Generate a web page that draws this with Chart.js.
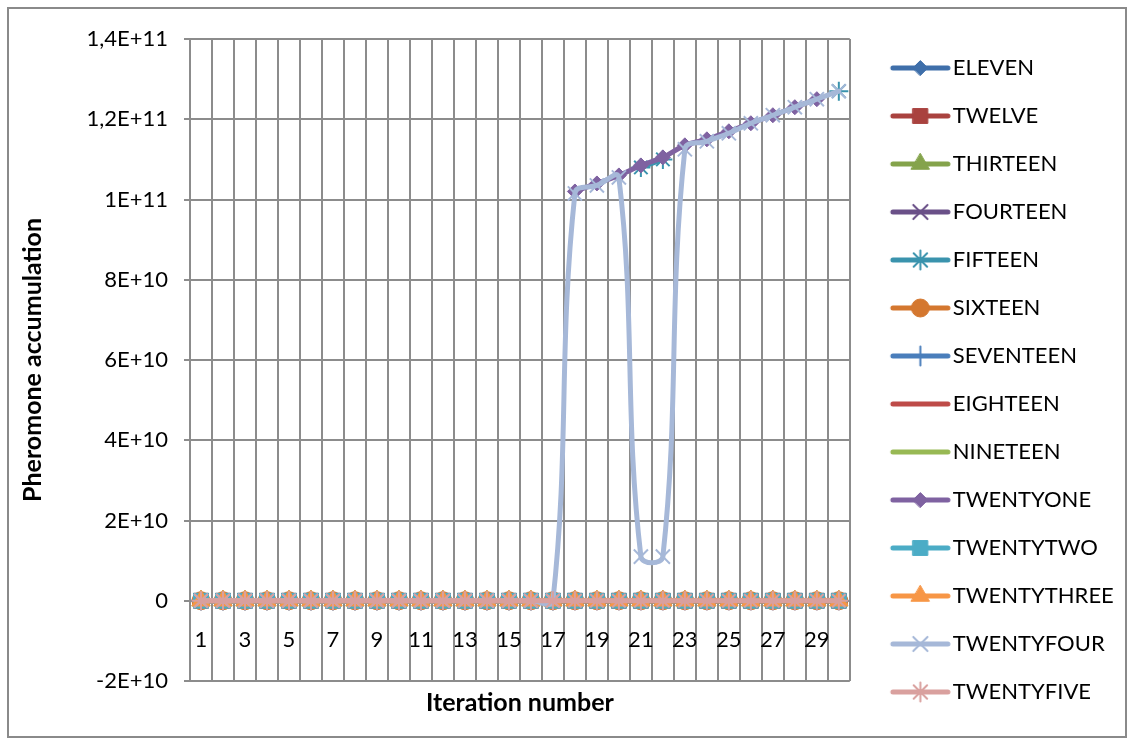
<!DOCTYPE html>
<html>
<head>
<meta charset="utf-8">
<script src="https://cdn.jsdelivr.net/npm/chart.js@4.4.1/dist/chart.umd.min.js"></script>
<style>
  html, body { margin: 0; padding: 0; background: #fff; }
  #wrap { position: relative; width: 1134px; height: 745px; }
</style>
</head>
<body>
<div id="wrap"><canvas id="chart"></canvas></div>
<script>
const iterations = ["1","2","3","4","5","6","7","8","9","10","11","12","13","14","15",
  "16","17","18","19","20","21","22","23","24","25","26","27","28","29","30"];
const yTickLabels = ["-2E+10","0","2E+10","4E+10","6E+10","8E+10","1E+11","1,2E+11","1,4E+11"];
const seriesNames = ["ELEVEN","TWELVE","THIRTEEN","FOURTEEN","FIFTEEN","SIXTEEN","SEVENTEEN",
  "EIGHTEEN","NINETEEN","TWENTYONE","TWENTYTWO","TWENTYTHREE","TWENTYFOUR","TWENTYFIVE"];

const eleven      = [0,0,0,0,0,0,0,0,0,0,0,0,0,0,0,0,0,0,0,0,0,0,0,0,0,0,0,0,0,0];
const twelve      = [0,0,0,0,0,0,0,0,0,0,0,0,0,0,0,0,0,0,0,0,0,0,0,0,0,0,0,0,0,0];
const thirteen    = [0,0,0,0,0,0,0,0,0,0,0,0,0,0,0,0,0,0,0,0,0,0,0,0,0,0,0,0,0,0];
const fourteen    = [0,0,0,0,0,0,0,0,0,0,0,0,0,0,0,0,0,0,0,0,0,0,0,0,0,0,0,0,0,0];
const fifteen     = [0,0,0,0,0,0,0,0,0,0,0,0,0,0,0,0,0,null,null,null,1.08e11,1.10e11,
  null,null,null,null,null,null,null,1.27e11];
const sixteen     = [0,0,0,0,0,0,0,0,0,0,0,0,0,0,0,0,0,0,0,0,0,0,0,0,0,0,0,0,0,0];
const seventeen   = [0,0,0,0,0,0,0,0,0,0,0,0,0,0,0,0,0,0,0,0,0,0,0,0,0,0,0,0,0,0];
const eighteen    = [0,0,0,0,0,0,0,0,0,0,0,0,0,0,0,0,0,0,0,0,0,0,0,0,0,0,0,0,0,0];
const nineteen    = [0,0,0,0,0,0,0,0,0,0,0,0,0,0,0,0,0,0,0,0,0,0,0,0,0,0,0,0,0,0];
const twentyOne   = [null,null,null,null,null,null,null,null,null,null,null,null,null,null,null,null,null,
  1.02e11,1.04e11,1.06e11,1.085e11,1.105e11,1.135e11,1.15e11,1.17e11,1.19e11,1.21e11,1.23e11,1.25e11,null];
const twentyTwo   = [0,0,0,0,0,0,0,0,0,0,0,0,0,0,0,0,0,0,0,0,0,0,0,0,0,0,0,0,0,0];
const twentyThree = [0,0,0,0,0,0,0,0,0,0,0,0,0,0,0,0,0,0,0,0,0,0,0,0,0,0,0,0,0,0];
const twentyFour  = [0,0,0,0,0,0,0,0,0,0,0,0,0,0,0,0,0,
  1.015e11,1.035e11,1.055e11,1.1e10,1.1e10,1.125e11,1.145e11,1.165e11,1.19e11,1.21e11,1.23e11,1.25e11,1.27e11];
const twentyFive  = [0,0,0,0,0,0,0,0,0,0,0,0,0,0,0,0,0,0,0,0,0,0,0,0,0,0,0,0,0,0];

const seriesValues = [eleven, twelve, thirteen, fourteen, fifteen, sixteen, seventeen,
  eighteen, nineteen, twentyOne, twentyTwo, twentyThree, twentyFour, twentyFive];

// Excel-like colours and markers per series
const seriesColors = ["#3F6FAA","#A9423F","#84A34B","#6A5088","#3A93AD","#D4772F","#4A7EBB",
  "#BE4B48","#98B954","#7F62A1","#4BACC6","#F79646","#A6B8D8","#D9A09E"];
const seriesMarkers = ["rectRot","rect","triangle","crossRot","star","circle","cross",
  false,false,"rectRot","rect","triangle","crossRot","star"];
const markerRadius = { rectRot: 7.5, rect: 10.5, triangle: 10.5, crossRot: 10, star: 9.5, circle: 9, cross: 9.5 };
const lineMarkers = ["crossRot","star","cross"];

const font = "Lato, 'Open Sans', sans-serif";
const gridColor = "#8c8c8c";

// legend icon: line with a marker in the middle (left part left transparent)
function makeIcon(color, marker) {
  const c = document.createElement("canvas");
  c.width = 110; c.height = 28;
  const g = c.getContext("2d");
  g.strokeStyle = color;
  g.lineWidth = 5;
  g.lineCap = "round";
  g.beginPath();
  g.moveTo(48, 14);
  g.lineTo(103, 14);
  g.stroke();
  if (marker) {
    g.fillStyle = color;
    g.strokeStyle = color;
    g.lineWidth = lineMarkers.includes(marker) ? 2 : 1;
    Chart.helpers.drawPoint(g, { pointStyle: marker, radius: markerRadius[marker], rotation: 0,
      borderWidth: g.lineWidth }, 75.5, 14);
  }
  return c;
}

const datasets = seriesNames.map((name, i) => {
  const m = seriesMarkers[i];
  return {
    label: name,
    data: seriesValues[i],
    borderColor: seriesColors[i],
    backgroundColor: seriesColors[i],
    borderWidth: 5,
    tension: 0.4,
    pointStyle: m || "circle",
    pointRadius: m ? markerRadius[m] : 0,
    pointBorderWidth: lineMarkers.includes(m) ? 2 : 1,
    pointBorderColor: seriesColors[i],
    pointBackgroundColor: seriesColors[i],
    order: seriesNames.length - i,
  };
});

const legendIcons = seriesNames.map((n, i) => makeIcon(seriesColors[i], seriesMarkers[i]));

const frame = {
  id: "frame",
  beforeDraw(chart) {
    const ctx = chart.ctx;
    ctx.save();
    ctx.fillStyle = "#fff";
    ctx.fillRect(0, 0, chart.width, chart.height);
    ctx.strokeStyle = "#8a8a8a";
    ctx.lineWidth = 2;
    ctx.strokeRect(8, 8, 1118, 729);
    ctx.restore();
  },
};

new Chart(document.getElementById("chart"), {
  type: "line",
  data: { labels: iterations, datasets: datasets },
  plugins: [frame],
  options: {
    responsive: true,
    maintainAspectRatio: false,
    animation: false,
    layout: { padding: { left: 10, top: 39, right: 10.2, bottom: 6 } },
    elements: { line: { borderCapStyle: "round", borderJoinStyle: "round" } },
    scales: {
      x: {
        type: "category",
        position: { y: 0 },
        offset: true,
        grid: { offset: true, color: gridColor, lineWidth: 2, drawTicks: false },
        border: { color: gridColor, width: 2 },
        ticks: {
          autoSkip: false,
          maxRotation: 0,
          padding: 26,
          color: "#000",
          font: { family: font, size: 22 },
          callback: (v, i) => (i % 2 === 0 ? iterations[i] : ""),
        },
      },
      y: {
        min: -2e10,
        max: 1.4e11,
        grid: { color: gridColor, lineWidth: 2, tickLength: 6 },
        border: { color: gridColor, width: 2 },
        ticks: {
          stepSize: 2e10,
          padding: 16,
          color: "#000",
          font: { family: font, size: 22 },
          callback: (v, i) => yTickLabels[i],
        },
        title: {
          display: true,
          text: "Pheromone accumulation",
          color: "#000",
          font: { family: font, size: 25, weight: "bold" },
          padding: { top: 8, bottom: 0 },
        },
        afterFit: (s) => { s.width = 180; },
      },
    },
    plugins: {
      tooltip: { enabled: false },
      title: {
        display: true,
        position: "bottom",
        fullSize: false,
        text: "Iteration number",
        color: "#000",
        font: { family: font, size: 25, weight: "bold" },
        padding: { top: 7, bottom: 21 },
      },
      legend: {
        position: "right",
        align: "center",
        labels: {
          usePointStyle: true,
          pointStyleWidth: 84,
          padding: 8,
          color: "#000",
          font: { family: font, size: 22, lineHeight: "40px" },
          generateLabels: (chart) => chart.data.datasets.map((ds, i) => ({
            text: [ds.label],
            pointStyle: legendIcons[i],
            fillStyle: ds.borderColor,
            strokeStyle: ds.borderColor,
            lineWidth: 0,
            hidden: false,
            datasetIndex: i,
          })),
        },
      },
    },
  },
});
</script>
</body>
</html>
